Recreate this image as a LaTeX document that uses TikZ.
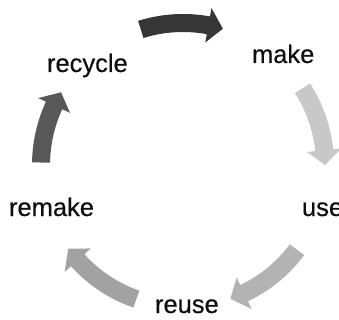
\documentclass[tikz,border=0pt]{standalone}
\usepackage{fontspec}
\setmainfont{Liberation Sans}
\newfontfamily\lblfont[FakeBold=0.5]{Liberation Sans}
\begin{document}
\begin{tikzpicture}[x=1pt,y=1pt,
  lbl/.style={anchor=base west,inner sep=0pt,outer sep=0pt,font=\lblfont\fontsize{25.5}{28}\selectfont,text=black!94}]
\useasboundingbox (0,0) rectangle (339,-320);
\def\R{142}\def\W{9}\def\H{17.5}\def\D{6}
% curved arrow: #1 colour, #2 tail angle, #3 tip angle
\newcommand\cycarrow[3]{%
  \pgfmathsetmacro\hb{#3+\D}%
  \fill[#1,shift={(183,-165)}]
    (#2:\R+\W) arc[start angle=#2,end angle=\hb,radius=\R+\W]
    -- (\hb:\R+\H) -- (#3:\R) -- (\hb:\R-\H) -- (\hb:\R-\W)
    arc[start angle=\hb,end angle=#2,radius=\R-\W] -- cycle;}
\definecolor{ctop}{HTML}{363636}
\definecolor{cright}{HTML}{C8C8C8}
\definecolor{cbr}{HTML}{B3B3B3}
\definecolor{cbl}{HTML}{A2A2A2}
\definecolor{cleft}{HTML}{585858}
\cycarrow{ctop}{107.3}{73.7}
\cycarrow{cright}{32.7}{0}
\cycarrow{cbr}{-36.6}{-70.5}
\cycarrow{cbl}{-109.2}{-143.9}
\cycarrow{cleft}{179}{149.2}
\node[lbl] (recycle) at (47,-72) {recycle};
\node[lbl] (make) at (252,-63) {make};
\node[lbl] (use) at (302,-216) {use};
\node[lbl] (reuse) at (155,-313) {reuse};
\node[lbl] (remake) at (9,-216) {remake};
\end{tikzpicture}
\end{document}
